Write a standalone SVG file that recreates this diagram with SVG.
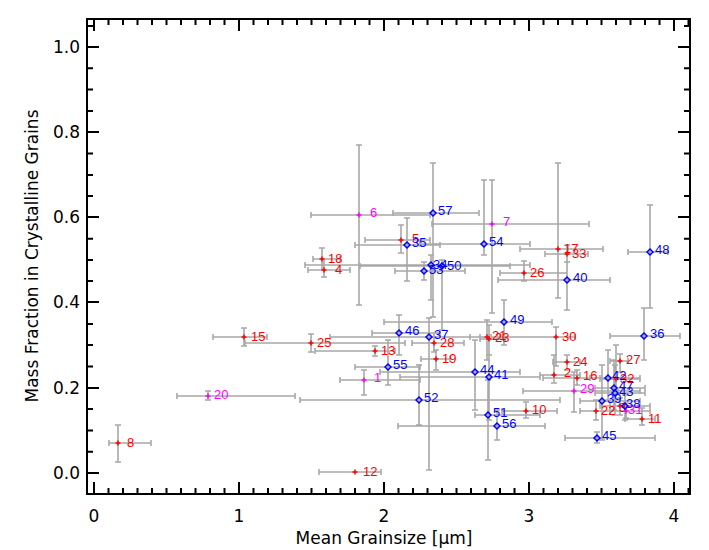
<svg xmlns="http://www.w3.org/2000/svg" width="709" height="550" viewBox="0 0 709 550">
<style>
.e{stroke:#a8a8a8;stroke-width:1.6;fill:none}
.r{stroke:#ff0000;stroke-width:1.5;fill:none}
.m{stroke:#ff00ff;stroke-width:1.5;fill:none}
.b{stroke:#0000ff;stroke-width:1.5;fill:none}
.lr{fill:#ff0000;font:13px "Liberation Sans",Arial,sans-serif}
.lm{fill:#ff00ff;font:13px "Liberation Sans",Arial,sans-serif}
.lb{fill:#0000ff;font:13px "Liberation Sans",Arial,sans-serif}
.ax{stroke:#000;stroke-width:2;fill:none}
.t{font:17px "DejaVu Sans",sans-serif;fill:#000}
</style>
<rect width="709" height="550" fill="#fff"/>
<g id="axes">
<rect x="87" y="19" width="603" height="475" class="ax"/>
<path class="ax" stroke-width="1.5" d="M94 494v-12M239 494v-12M384 494v-12M529 494v-12M674 494v-12M94 19v12M239 19v12M384 19v12M529 19v12M674 19v12
M108.5 494v-6M123 494v-6M137.5 494v-6M152 494v-6M166.5 494v-6M181 494v-6M195.5 494v-6M210 494v-6M224.5 494v-6M253.5 494v-6M268 494v-6M282.5 494v-6M297 494v-6M311.5 494v-6M326 494v-6M340.5 494v-6M355 494v-6M369.5 494v-6M398.5 494v-6M413 494v-6M427.5 494v-6M442 494v-6M456.5 494v-6M471 494v-6M485.5 494v-6M500 494v-6M514.5 494v-6M543.5 494v-6M558 494v-6M572.5 494v-6M587 494v-6M601.5 494v-6M616 494v-6M630.5 494v-6M645 494v-6M659.5 494v-6M688.5 494v-6
M108.5 19v6M123 19v6M137.5 19v6M152 19v6M166.5 19v6M181 19v6M195.5 19v6M210 19v6M224.5 19v6M253.5 19v6M268 19v6M282.5 19v6M297 19v6M311.5 19v6M326 19v6M340.5 19v6M355 19v6M369.5 19v6M398.5 19v6M413 19v6M427.5 19v6M442 19v6M456.5 19v6M471 19v6M485.5 19v6M500 19v6M514.5 19v6M543.5 19v6M558 19v6M572.5 19v6M587 19v6M601.5 19v6M616 19v6M630.5 19v6M645 19v6M659.5 19v6M688.5 19v6
M87 473h12M87 388h12M87 302h12M87 217h12M87 132h12M87 47h12M690 473h-12M690 388h-12M690 302h-12M690 217h-12M690 132h-12M690 47h-12
M87 494h6M87 451.7h6M87 430.4h6M87 409h6M87 366.5h6M87 345h6M87 324h6M87 281h6M87 260h6M87 238.7h6M87 196h6M87 175h6M87 153.5h6M87 111h6M87 89.6h6M87 68.3h6M87 26h6
M690 494h-6M690 451.7h-6M690 430.4h-6M690 409h-6M690 366.5h-6M690 345h-6M690 324h-6M690 281h-6M690 260h-6M690 238.7h-6M690 196h-6M690 175h-6M690 153.5h-6M690 111h-6M690 89.6h-6M690 68.3h-6M690 26h-6"/>
<g class="t" text-anchor="end">
<text x="80" y="479">0.0</text><text x="80" y="394">0.2</text><text x="80" y="308">0.4</text><text x="80" y="223">0.6</text><text x="80" y="138">0.8</text><text x="80" y="53">1.0</text>
</g>
<g class="t" text-anchor="middle">
<text x="94" y="522">0</text><text x="239" y="522">1</text><text x="384" y="522">2</text><text x="529" y="522">3</text><text x="674" y="522">4</text>
<text x="384" y="544">Mean Grainsize [μm]</text>
<text transform="translate(38 256) rotate(-90)">Mass Fraction in Crystalline Grains</text>
</g>
</g>
<g id="errorbars">
<path class="e" d="M109 443H151M109 440v6M151 440v6M118 425V462M115 425h6M115 462h6
M319 472H381M319 469v6M381 469v6
M213 337H267M213 334v6M267 334v6M244 328V346M241 328h6M241 346h6
M245 343H405M245 340v6M405 340v6M311 334V352M308 334h6M308 352h6
M315 351H395M315 348v6M395 348v6M375 346V356M372 346h6M372 356h6
M313 259H340M313 256v6M340 256v6M322 248V270M319 248h6M319 270h6
M308 270H350M308 267v6M350 267v6M324 259V277M321 259h6M321 277h6
M365 240H430M365 237v6M430 237v6M401 225V253M398 225h6M398 253h6
M421 359H450M421 356v6M450 356v6M436 350V370M433 350h6M433 370h6
M412 343H464M412 340v6M464 340v6M434 333V352M431 333h6M431 352h6
M470 337H500M470 334v6M500 334v6M487 320V360M484 320h6M484 360h6
M480 339H505M480 336v6M505 336v6M489 325V355M486 325h6M486 355h6
M500 273H567M500 270v6M567 270v6M524 261V281M521 261h6M521 281h6
M520 249H603M520 246v6M603 246v6M558 163V298M555 163h6M555 298h6
M545 254H588M545 251v6M588 251v6M567 245V262M564 245h6M564 262h6
M480 337H575M480 334v6M575 334v6M556 327V366M553 327h6M553 366h6
M553 362H580M553 359v6M580 359v6M567 355V370M564 355h6M564 370h6
M540 375H580M540 372v6M580 372v6M554 355V383M551 355h6M551 383h6
M543 378H600M543 375v6M600 375v6M577 370V385M574 370h6M574 385h6
M610 361H628M610 358v6M628 358v6M620 354V372M617 354h6M617 372h6
M600 379H640M600 376v6M640 376v6M616 345V390M613 345h6M613 390h6
M580 411H615M580 408v6M615 408v6M596 400V420M593 400h6M593 420h6
M600 406H640M600 403v6M640 403v6M620 398V415M617 398h6M617 415h6
M625 419H655M625 416v6M655 416v6M642 408V425M639 408h6M639 425h6
M502 411H557M502 408v6M557 408v6M526 402V418M523 402h6M523 418h6
M311 215H430M311 212v6M430 212v6M359 145V305M356 145h6M356 305h6
M432 224H589M432 221v6M589 221v6M492 180V313M489 180h6M489 313h6
M340 380H420M340 377v6M420 377v6M364 370V395M361 370h6M361 395h6
M177 396H295M177 393v6M295 393v6M208 391V400M205 391h6M205 400h6
M523 391H640M523 388v6M640 388v6M574 372V412M571 372h6M571 412h6
M610 411H650M610 408v6M650 408v6M626 403V418M623 403h6M623 418h6
M393 213H479M393 210v6M479 210v6M433 163V317M430 163h6M430 317h6
M355 245H440M355 242v6M440 242v6M407 218V281M404 218h6M404 281h6
M420 244H530M420 241v6M530 241v6M484 180V255M481 180h6M481 255h6
M628 252H668M628 249v6M668 249v6M650 205V308M647 205h6M647 308h6
M305 265H530M305 262v6M530 262v6M431 255V300M428 255h6M428 300h6
M360 266H510M360 263v6M510 263v6M442 260V330M439 260h6M439 330h6
M395 271H465M395 268v6M465 268v6M424 262V280M421 262h6M421 280h6
M498 280H610M498 277v6M610 277v6M567 262V310M564 262h6M564 310h6
M384 322H552M384 319v6M552 319v6M504 300V345M501 300h6M501 345h6
M372 333H440M372 330v6M440 330v6M399 315V355M396 315h6M396 355h6
M330 337H500M330 334v6M500 334v6M429 318V470M426 318h6M426 470h6
M610 336H680M610 333v6M680 333v6M644 308V360M641 308h6M641 360h6
M355 367H420M355 364v6M420 364v6M388 340V385M385 340h6M385 385h6
M380 372H520M380 369v6M520 369v6M475 340V410M472 340h6M472 410h6
M400 377H540M400 374v6M540 374v6M489 335V420M486 335h6M486 420h6
M300 400H560M300 397v6M560 397v6M419 365V425M416 365h6M416 425h6
M475 415H540M475 412v6M540 412v6M488 380V460M485 380h6M485 460h6
M398 426H545M398 423v6M545 423v6M497 410V440M494 410h6M494 440h6
M590 378H640M590 375v6M640 375v6M608 350V400M605 350h6M605 400h6
M595 388H645M595 385v6M645 385v6M614 360V410M611 360h6M611 410h6
M595 393H645M595 390v6M645 390v6M615 365V415M612 365h6M612 415h6
M580 401H640M580 398v6M640 398v6M602 365V440M599 365h6M599 440h6
M610 406H650M610 403v6M650 403v6M625 395V420M622 395h6M622 420h6
M565 438H655M565 435v6M655 435v6M597 432V443M594 432h6M594 443h6"/>
</g>
<g id="p8"><path class="r" d="M115.5 443h5M118 440.5v5"/><text class="lr" x="127" y="447">8</text></g>
<g id="p12"><path class="r" d="M352.5 472h5M355 469.5v5"/><text class="lr" x="363" y="476">12</text></g>
<g id="p15"><path class="r" d="M241.5 337h5M244 334.5v5"/><text class="lr" x="251" y="341">15</text></g>
<g id="p25"><path class="r" d="M308.5 343h5M311 340.5v5"/><text class="lr" x="317" y="347">25</text></g>
<g id="p13"><path class="r" d="M372.5 351h5M375 348.5v5"/><text class="lr" x="381" y="355">13</text></g>
<g id="p18"><path class="r" d="M319.5 259h5M322 256.5v5"/><text class="lr" x="328" y="263">18</text></g>
<g id="p4"><path class="r" d="M321.5 270h5M324 267.5v5"/><text class="lr" x="335" y="274">4</text></g>
<g id="p5"><path class="r" d="M398.5 240h5M401 237.5v5"/><text class="lr" x="412" y="243">5</text></g>
<g id="p19"><path class="r" d="M433.5 359h5M436 356.5v5"/><text class="lr" x="442" y="363">19</text></g>
<g id="p28"><path class="r" d="M431.5 343h5M434 340.5v5"/><text class="lr" x="440" y="347">28</text></g>
<g id="p21"><path class="r" d="M484.5 337h5M487 334.5v5"/><text class="lr" x="492" y="340">21</text></g>
<g id="p23"><path class="r" d="M486.5 339h5M489 336.5v5"/><text class="lr" x="495" y="342">23</text></g>
<g id="p26"><path class="r" d="M521.5 273h5M524 270.5v5"/><text class="lr" x="530" y="277">26</text></g>
<g id="p17"><path class="r" d="M555.5 249h5M558 246.5v5"/><text class="lr" x="564" y="253">17</text></g>
<g id="p33"><path class="r" d="M564.5 254h5M567 251.5v5"/><text class="lr" x="572" y="258">33</text></g>
<g id="p30"><path class="r" d="M553.5 337h5M556 334.5v5"/><text class="lr" x="562" y="341">30</text></g>
<g id="p24"><path class="r" d="M564.5 362h5M567 359.5v5"/><text class="lr" x="573" y="366">24</text></g>
<g id="p2"><path class="r" d="M551.5 375h5M554 372.5v5"/><text class="lr" x="564" y="377">2</text></g>
<g id="p16"><path class="r" d="M574.5 378h5M577 375.5v5"/><text class="lr" x="583" y="380">16</text></g>
<g id="p27"><path class="r" d="M617.5 361h5M620 358.5v5"/><text class="lr" x="626" y="364">27</text></g>
<g id="p32"><path class="r" d="M613.5 379h5M616 376.5v5"/><text class="lr" x="620" y="383">32</text></g>
<g id="p22"><path class="r" d="M593.5 411h5M596 408.5v5"/><text class="lr" x="601" y="415">22</text></g>
<g id="p3"><path class="r" d="M617.5 406h5M620 403.5v5"/><text class="lr" x="619" y="412">3</text></g>
<g id="p11"><path class="r" d="M639.5 419h5M642 416.5v5"/><text class="lr" x="648" y="423">11</text></g>
<g id="p10"><path class="r" d="M523.5 411h5M526 408.5v5"/><text class="lr" x="532" y="414">10</text></g>
<g id="p6"><path class="m" d="M356.5 215h5M359 212.5v5"/><text class="lm" x="370" y="217">6</text></g>
<g id="p7"><path class="m" d="M489.5 224h5M492 221.5v5"/><text class="lm" x="503" y="226">7</text></g>
<g id="p1"><path class="m" d="M361.5 380h5M364 377.5v5"/><text class="lm" x="374" y="382">1</text></g>
<g id="p20"><path class="m" d="M205.5 396h5M208 393.5v5"/><text class="lm" x="214" y="399">20</text></g>
<g id="p29"><path class="m" d="M571.5 391h5M574 388.5v5"/><text class="lm" x="580" y="393">29</text></g>
<g id="p31"><path class="m" d="M623.5 411h5M626 408.5v5"/><text class="lm" x="628" y="414">31</text></g>
<g id="p57"><path class="b" d="M430 213l3-3 3 3-3 3z"/><text class="lb" x="438" y="215">57</text></g>
<g id="p35"><path class="b" d="M404 245l3-3 3 3-3 3z"/><text class="lb" x="412" y="247">35</text></g>
<g id="p54"><path class="b" d="M481 244l3-3 3 3-3 3z"/><text class="lb" x="489" y="246">54</text></g>
<g id="p48"><path class="b" d="M647 252l3-3 3 3-3 3z"/><text class="lb" x="655" y="254">48</text></g>
<g id="p34"><path class="b" d="M428 265l3-3 3 3-3 3z"/><text class="lb" x="433" y="269">34</text></g>
<g id="p50"><path class="b" d="M439 266l3-3 3 3-3 3z"/><text class="lb" x="447" y="270">50</text></g>
<g id="p53"><path class="b" d="M421 271l3-3 3 3-3 3z"/><text class="lb" x="429" y="274">53</text></g>
<g id="p40"><path class="b" d="M564 280l3-3 3 3-3 3z"/><text class="lb" x="573" y="282">40</text></g>
<g id="p49"><path class="b" d="M501 322l3-3 3 3-3 3z"/><text class="lb" x="510" y="324">49</text></g>
<g id="p46"><path class="b" d="M396 333l3-3 3 3-3 3z"/><text class="lb" x="405" y="335">46</text></g>
<g id="p37"><path class="b" d="M426 337l3-3 3 3-3 3z"/><text class="lb" x="434" y="339">37</text></g>
<g id="p36"><path class="b" d="M641 336l3-3 3 3-3 3z"/><text class="lb" x="650" y="338">36</text></g>
<g id="p55"><path class="b" d="M385 367l3-3 3 3-3 3z"/><text class="lb" x="393" y="369">55</text></g>
<g id="p44"><path class="b" d="M472 372l3-3 3 3-3 3z"/><text class="lb" x="480" y="374">44</text></g>
<g id="p41"><path class="b" d="M486 377l3-3 3 3-3 3z"/><text class="lb" x="494" y="379">41</text></g>
<g id="p52"><path class="b" d="M416 400l3-3 3 3-3 3z"/><text class="lb" x="424" y="402">52</text></g>
<g id="p51"><path class="b" d="M485 415l3-3 3 3-3 3z"/><text class="lb" x="493" y="417">51</text></g>
<g id="p56"><path class="b" d="M494 426l3-3 3 3-3 3z"/><text class="lb" x="502" y="428">56</text></g>
<g id="p42"><path class="b" d="M605 378l3-3 3 3-3 3z"/><text class="lb" x="612" y="380">42</text></g>
<g id="p47"><path class="b" d="M611 388l3-3 3 3-3 3z"/><text class="lb" x="619" y="390">47</text></g>
<g id="p43"><path class="b" d="M612 393l3-3 3 3-3 3z"/><text class="lb" x="619" y="396">43</text></g>
<g id="p39"><path class="b" d="M599 401l3-3 3 3-3 3z"/><text class="lb" x="607" y="403">39</text></g>
<g id="p38"><path class="b" d="M622 406l3-3 3 3-3 3z"/><text class="lb" x="626" y="408">38</text></g>
<g id="p45"><path class="b" d="M594 438l3-3 3 3-3 3z"/><text class="lb" x="602" y="440">45</text></g>
</svg>
